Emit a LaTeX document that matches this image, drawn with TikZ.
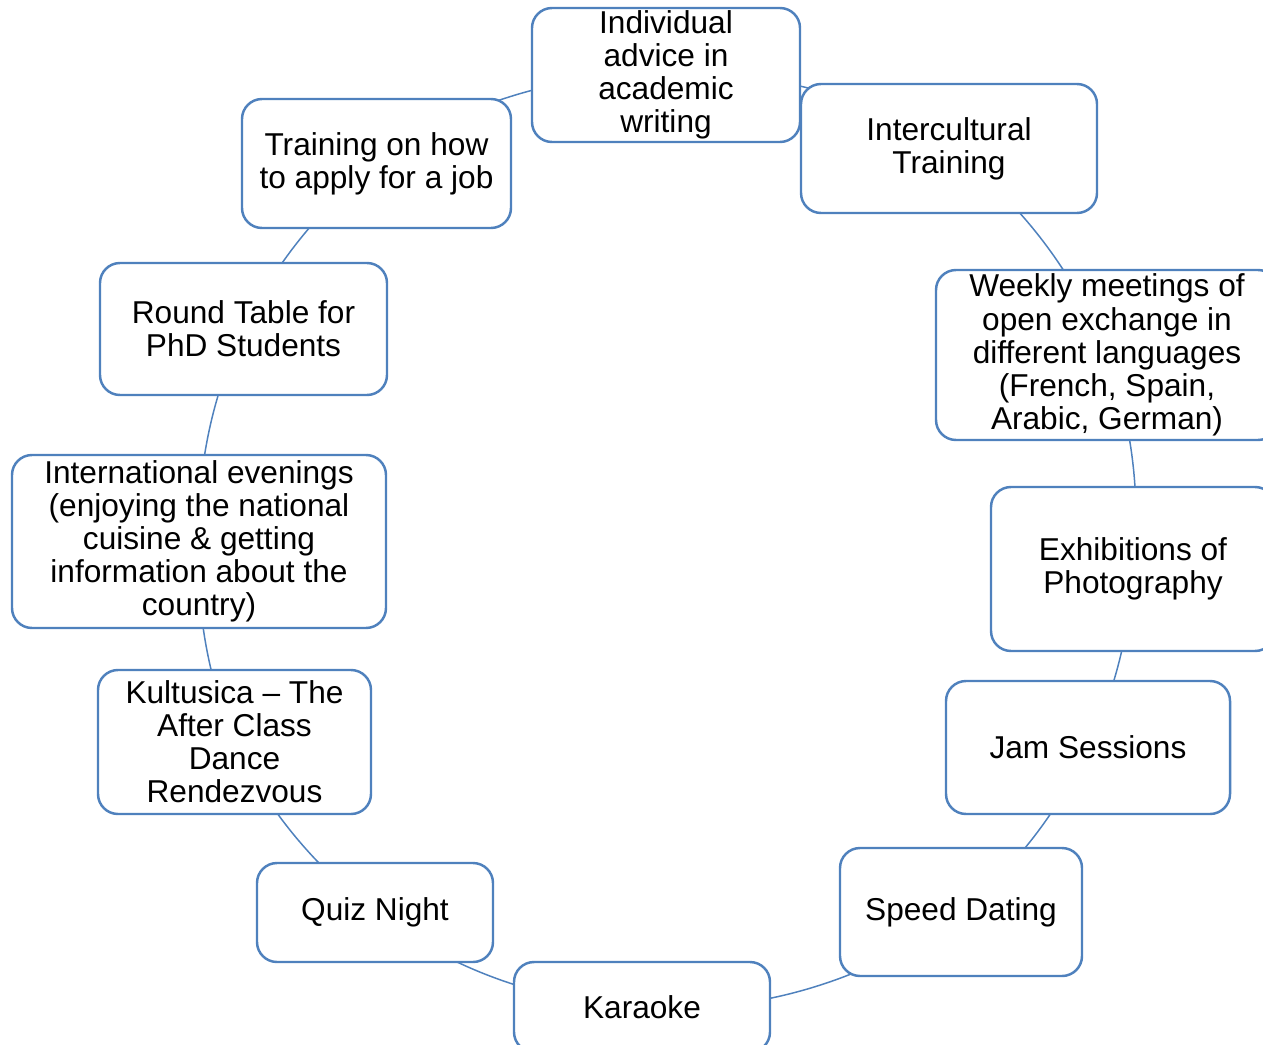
\documentclass[tikz,border=0pt]{standalone}
\usepackage{fontspec}
\setmainfont{Liberation Sans}
\usetikzlibrary{backgrounds}
\definecolor{cycleblue}{HTML}{4F81BD}

\begin{document}
\begin{tikzpicture}[x=0.02cm, y=-0.02cm,
    item/.style 2 args={draw=cycleblue, line width=1.4pt, fill=white,
      rounded corners=0.4cm, align=center, inner sep=0pt,
      minimum width=#1*0.02cm, minimum height=#2*0.02cm,
      font=\fontsize{18}{18.85}\selectfont},
    link/.style={draw=cycleblue, line width=0.85pt, looseness=0.87}]
\useasboundingbox (0,0) rectangle (1263,1044);
\clip (0,0) rectangle (1263,1044);
    \node[item={268}{134}] (advice) at (666,75) {Individual\\advice in\\academic\\writing};
    \node[item={296}{129}] (intercult) at (949,148.5) {Intercultural\\Training};
    \node[item={342}{170}] (weekly) at (1107,355) {Weekly meetings of\\open exchange in\\different languages\\(French, Spain,\\Arabic, German)};
    \node[item={284}{164}] (photo) at (1133,569) {Exhibitions of\\Photography};
    \node[item={284}{133}] (jam) at (1088,747.5) {Jam Sessions};
    \node[item={242}{128}] (dating) at (961,912) {Speed Dating};
    \node[item={256}{90}] (karaoke) at (642,1007) {Karaoke};
    \node[item={236}{99}] (quiz) at (375,912.5) {Quiz Night};
    \node[item={273}{144}] (dance) at (234.5,742) {Kultusica -- The\\After Class\\Dance\\Rendezvous};
    \node[item={374}{173}] (evenings) at (199,541.5) {International evenings\\(enjoying the national\\cuisine \& getting\\information about the\\country)};
    \node[item={287}{132}] (phd) at (243.5,329) {Round Table for\\PhD Students};
    \node[item={269}{129}] (job) at (376.5,163.5) {Training on how\\to apply for a job};
    \begin{scope}[on background layer]
        \draw[link] (advice.center) to[bend left=18.1] (intercult.center);
        \draw[link] (intercult.center) to[bend left=16.1] (weekly.center);
        \draw[link] (weekly.center) to[bend left=13.3] (photo.center);
        \draw[link] (photo.center) to[bend left=11.3] (jam.center);
        \draw[link] (jam.center) to[bend left=12.8] (dating.center);
        \draw[link] (dating.center) to[bend left=20.7] (karaoke.center);
        \draw[link] (karaoke.center) to[bend left=17.5] (quiz.center);
        \draw[link] (quiz.center) to[bend left=13.6] (dance.center);
        \draw[link] (dance.center) to[bend left=12.5] (evenings.center);
        \draw[link] (evenings.center) to[bend left=13.4] (phd.center);
        \draw[link] (phd.center) to[bend left=13.1] (job.center);
        \draw[link] (job.center) to[bend left=18.8] (advice.center);
    \end{scope}
\end{tikzpicture}
\end{document}
